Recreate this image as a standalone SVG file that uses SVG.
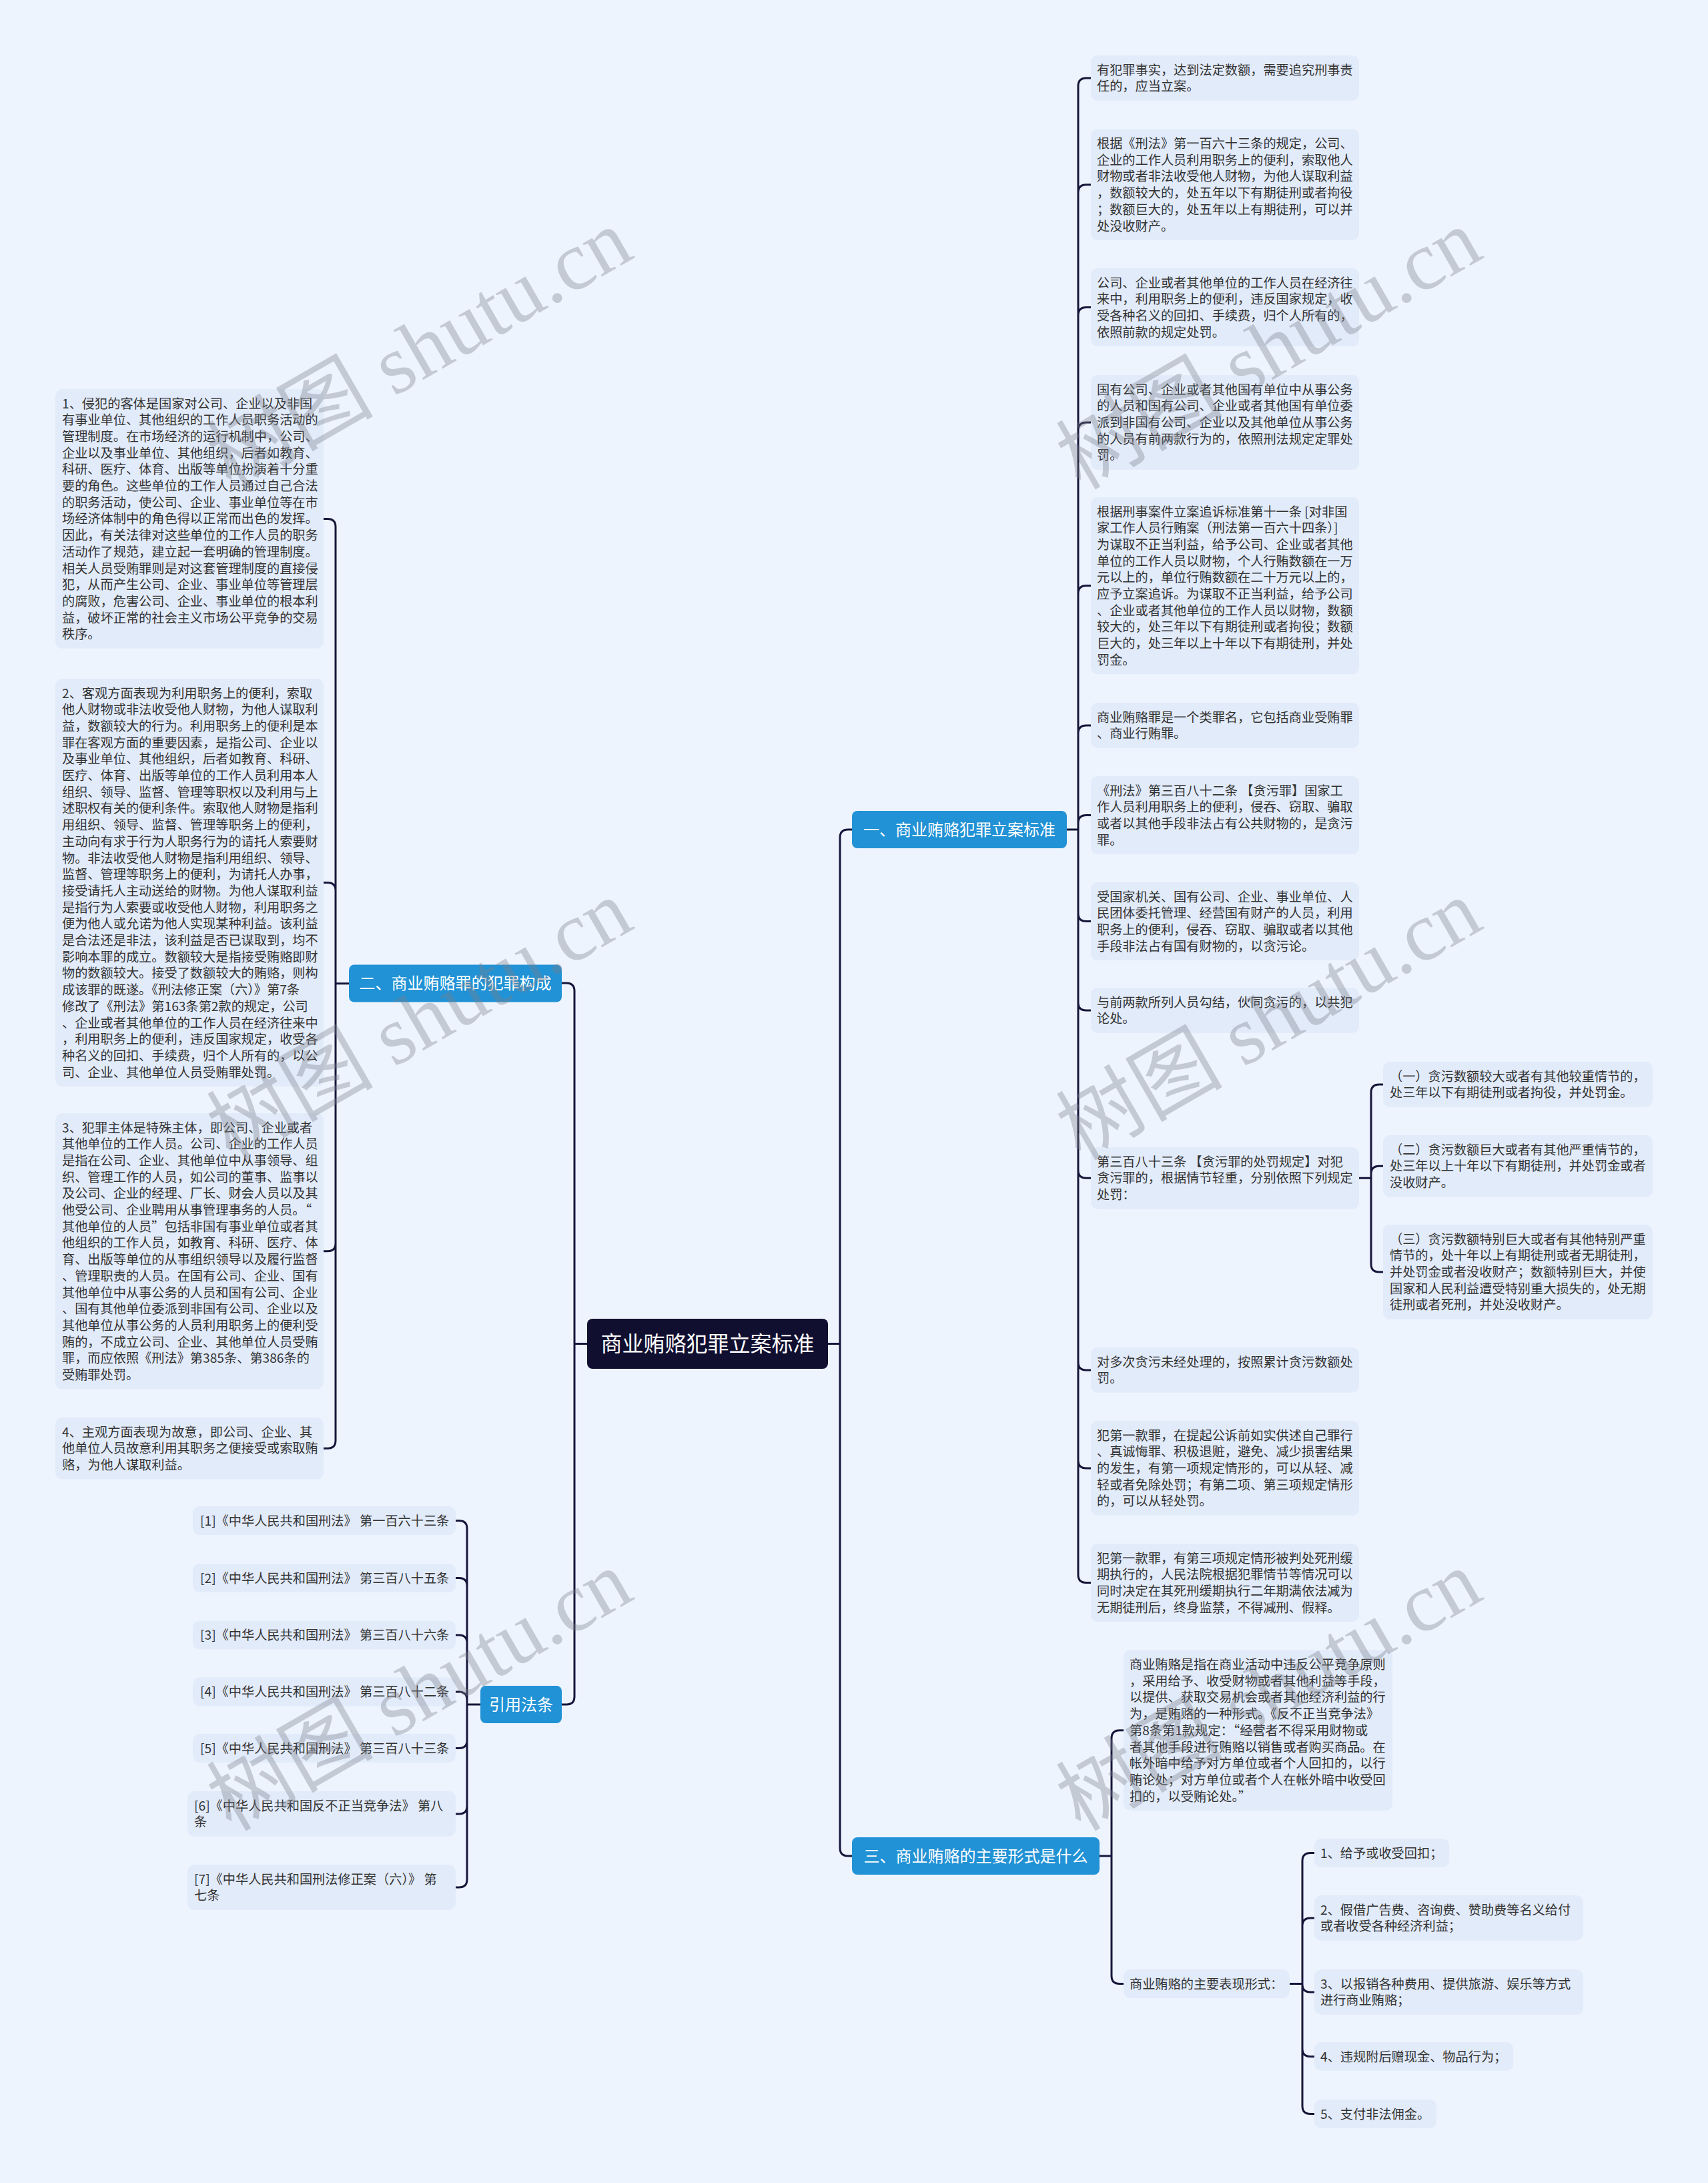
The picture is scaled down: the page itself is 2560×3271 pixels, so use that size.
<svg xmlns="http://www.w3.org/2000/svg" width="2560" height="3271" viewBox="0 0 2560 3271">
<style>
.bg{fill:#eef4fe}
.box{fill:#e2ebfa}
.t{font-family:"Noto Sans CJK SC","Noto Sans",sans-serif;font-size:19.2px;fill:#333}
.br{fill:#2192d5}
.bt{font-family:"Noto Sans CJK SC","Noto Sans",sans-serif;font-size:24px;fill:#fff;text-anchor:middle}
.ct{font-family:"Noto Sans CJK SC","Noto Sans",sans-serif;font-size:32px;fill:#fff;text-anchor:middle}
.cn path{fill:none;stroke:#15163a;stroke-width:3;stroke-linecap:round}
.wm{font-family:"Liberation Serif","Noto Sans CJK SC",serif;font-size:125px;fill:#7d818a;opacity:0.36;text-anchor:middle}
</style>
<rect class="bg" x="0" y="0" width="2560" height="3271"/>
<g id="connectors" class="cn">
<path d="M1241,2013.5 H1259 M1259,1255 V2769 M1259,1255 Q1259,1243 1271,1243 H1277 M1259,2769 Q1259,2781 1271,2781 H1277"/>
<path d="M880,2013.5 H861 M861,1485 V2542 M861,1485 Q861,1473 849,1473 H842 M861,2542 Q861,2554 849,2554 H842"/>
<path d="M1599,1243 H1616 M1616,128.9 V2359.5 M1616,128.9 Q1616,116.9 1628,116.9 H1635 M1616,288.75 Q1616,276.75 1628,276.75 H1635 M1616,472.5 Q1616,460.5 1628,460.5 H1635 M1616,644.9 Q1616,632.9 1628,632.9 H1635 M1616,889.6 Q1616,877.6 1628,877.6 H1635 M1616,1098.9 Q1616,1086.9 1628,1086.9 H1635 M1616,1233.5 Q1616,1221.5 1628,1221.5 H1635 M1616,1368.5 Q1616,1380.5 1628,1380.5 H1635 M1616,1501.9 Q1616,1513.9 1628,1513.9 H1635 M1616,1753.2 Q1616,1765.2 1628,1765.2 H1635 M1616,2040.9 Q1616,2052.9 1628,2052.9 H1635 M1616,2187.9 Q1616,2199.9 1628,2199.9 H1635 M1616,2359.5 Q1616,2371.5 1628,2371.5 H1635"/>
<path d="M2037,1765.2 H2055 M2055,1636.9 V1893.9 M2055,1636.9 Q2055,1624.9 2067,1624.9 H2073 M2055,1759.2 Q2055,1747.2 2067,1747.2 H2073 M2055,1893.9 Q2055,1905.9 2067,1905.9 H2073"/>
<path d="M523,1473.8 H503 M503,789.4 V2158.2 M503,789.4 Q503,777.4 491,777.4 H485 M503,1334.6 Q503,1322.6 491,1322.6 H485 M503,1862.8 Q503,1874.8 491,1874.8 H485 M503,2158.2 Q503,2170.2 491,2170.2 H485"/>
<path d="M720,2554 H700 M700,2290.5 V2815.9 M700,2290.5 Q700,2278.5 688,2278.5 H683 M700,2376.5 Q700,2364.5 688,2364.5 H683 M700,2462 Q700,2450 688,2450 H683 M700,2547 Q700,2535 688,2535 H683 M700,2607.5 Q700,2619.5 688,2619.5 H683 M700,2705.9 Q700,2717.9 688,2717.9 H683 M700,2815.9 Q700,2827.9 688,2827.9 H683"/>
<path d="M1648,2781 H1666 M1666,2604.8 V2960.5 M1666,2604.8 Q1666,2592.8 1678,2592.8 H1684 M1666,2960.5 Q1666,2972.5 1678,2972.5 H1684"/>
<path d="M1933,2972.5 H1952 M1952,2788.5 V3155.5 M1952,2788.5 Q1952,2776.5 1964,2776.5 H1970 M1952,2885.9 Q1952,2873.9 1964,2873.9 H1970 M1952,2972.9 Q1952,2984.9 1964,2984.9 H1970 M1952,3069.5 Q1952,3081.5 1964,3081.5 H1970 M1952,3155.5 Q1952,3167.5 1964,3167.5 H1970"/>
</g>
<g id="root"><rect x="880" y="1976" width="361" height="75" rx="8" fill="#110f30"/><text class="ct" x="1060.5" y="2025">商业贿赂犯罪立案标准</text></g>
<g id="b1"><rect class="br" x="1277" y="1215" width="322" height="56" rx="8"/><text class="bt" x="1438" y="1251.5">一、商业贿赂犯罪立案标准</text></g>
<g id="b2"><rect class="br" x="523" y="1445.5" width="319" height="56" rx="8"/><text class="bt" x="682.5" y="1482">二、商业贿赂罪的犯罪构成</text></g>
<g id="b3"><rect class="br" x="1277" y="2753" width="371" height="56" rx="8"/><text class="bt" x="1462.5" y="2789.5">三、商业贿赂的主要形式是什么</text></g>
<g id="b4"><rect class="br" x="720" y="2526" width="122" height="56" rx="8"/><text class="bt" x="781" y="2562.5">引用法条</text></g>
<g id="r1"><rect class="box" x="1635" y="83" width="402" height="67.7" rx="10"/><text class="t" x="1644" y="111.5"><tspan x="1644">有犯罪事实，达到法定数额，需要追究刑事责</tspan><tspan x="1644" dy="24.7">任的，应当立案。</tspan></text></g>
<g id="r2"><rect class="box" x="1635" y="193.5" width="402" height="166.5" rx="10"/><text class="t" x="1644" y="222"><tspan x="1644">根据《刑法》第一百六十三条的规定，公司、</tspan><tspan x="1644" dy="24.7">企业的工作人员利用职务上的便利，索取他人</tspan><tspan x="1644" dy="24.7">财物或者非法收受他人财物，为他人谋取利益</tspan><tspan x="1644" dy="24.7">，数额较大的，处五年以下有期徒刑或者拘役</tspan><tspan x="1644" dy="24.7">；数额巨大的，处五年以上有期徒刑，可以并</tspan><tspan x="1644" dy="24.7">处没收财产。</tspan></text></g>
<g id="r3"><rect class="box" x="1635" y="402" width="402" height="117.1" rx="10"/><text class="t" x="1644" y="430.5"><tspan x="1644">公司、企业或者其他单位的工作人员在经济往</tspan><tspan x="1644" dy="24.7">来中，利用职务上的便利，违反国家规定，收</tspan><tspan x="1644" dy="24.7">受各种名义的回扣、手续费，归个人所有的，</tspan><tspan x="1644" dy="24.7">依照前款的规定处罚。</tspan></text></g>
<g id="r4"><rect class="box" x="1635" y="562" width="402" height="141.8" rx="10"/><text class="t" x="1644" y="590.5"><tspan x="1644">国有公司、企业或者其他国有单位中从事公务</tspan><tspan x="1644" dy="24.7">的人员和国有公司、企业或者其他国有单位委</tspan><tspan x="1644" dy="24.7">派到非国有公司、企业以及其他单位从事公务</tspan><tspan x="1644" dy="24.7">的人员有前两款行为的，依照刑法规定定罪处</tspan><tspan x="1644" dy="24.7">罚。</tspan></text></g>
<g id="r5"><rect class="box" x="1635" y="745" width="402" height="265.3" rx="10"/><text class="t" x="1644" y="773.5"><tspan x="1644">根据刑事案件立案追诉标准第十一条 [对非国</tspan><tspan x="1644" dy="24.7">家工作人员行贿案（刑法第一百六十四条）]</tspan><tspan x="1644" dy="24.7">为谋取不正当利益，给予公司、企业或者其他</tspan><tspan x="1644" dy="24.7">单位的工作人员以财物，个人行贿数额在一万</tspan><tspan x="1644" dy="24.7">元以上的，单位行贿数额在二十万元以上的，</tspan><tspan x="1644" dy="24.7">应予立案追诉。为谋取不正当利益，给予公司</tspan><tspan x="1644" dy="24.7">、企业或者其他单位的工作人员以财物，数额</tspan><tspan x="1644" dy="24.7">较大的，处三年以下有期徒刑或者拘役；数额</tspan><tspan x="1644" dy="24.7">巨大的，处三年以上十年以下有期徒刑，并处</tspan><tspan x="1644" dy="24.7">罚金。</tspan></text></g>
<g id="r6"><rect class="box" x="1635" y="1053" width="402" height="67.7" rx="10"/><text class="t" x="1644" y="1081.5"><tspan x="1644">商业贿赂罪是一个类罪名，它包括商业受贿罪</tspan><tspan x="1644" dy="24.7">、商业行贿罪。</tspan></text></g>
<g id="r7"><rect class="box" x="1635" y="1163" width="402" height="117.1" rx="10"/><text class="t" x="1644" y="1191.5"><tspan x="1644">《刑法》第三百八十二条 【贪污罪】国家工</tspan><tspan x="1644" dy="24.7">作人员利用职务上的便利，侵吞、窃取、骗取</tspan><tspan x="1644" dy="24.7">或者以其他手段非法占有公共财物的，是贪污</tspan><tspan x="1644" dy="24.7">罪。</tspan></text></g>
<g id="r8"><rect class="box" x="1635" y="1322" width="402" height="117.1" rx="10"/><text class="t" x="1644" y="1350.5"><tspan x="1644">受国家机关、国有公司、企业、事业单位、人</tspan><tspan x="1644" dy="24.7">民团体委托管理、经营国有财产的人员，利用</tspan><tspan x="1644" dy="24.7">职务上的便利，侵吞、窃取、骗取或者以其他</tspan><tspan x="1644" dy="24.7">手段非法占有国有财物的，以贪污论。</tspan></text></g>
<g id="r9"><rect class="box" x="1635" y="1480" width="402" height="67.7" rx="10"/><text class="t" x="1644" y="1508.5"><tspan x="1644">与前两款所列人员勾结，伙同贪污的，以共犯</tspan><tspan x="1644" dy="24.7">论处。</tspan></text></g>
<g id="r10"><rect class="box" x="1635" y="1719" width="402" height="92.4" rx="10"/><text class="t" x="1644" y="1747.5"><tspan x="1644">第三百八十三条 【贪污罪的处罚规定】对犯</tspan><tspan x="1644" dy="24.7">贪污罪的，根据情节轻重，分别依照下列规定</tspan><tspan x="1644" dy="24.7">处罚：</tspan></text></g>
<g id="s1"><rect class="box" x="2073" y="1591" width="404" height="67.7" rx="10"/><text class="t" x="2083" y="1619.5"><tspan x="2083">（一）贪污数额较大或者有其他较重情节的，</tspan><tspan x="2083" dy="24.7">处三年以下有期徒刑或者拘役，并处罚金。</tspan></text></g>
<g id="s2"><rect class="box" x="2073" y="1701" width="404" height="92.4" rx="10"/><text class="t" x="2083" y="1729.5"><tspan x="2083">（二）贪污数额巨大或者有其他严重情节的，</tspan><tspan x="2083" dy="24.7">处三年以上十年以下有期徒刑，并处罚金或者</tspan><tspan x="2083" dy="24.7">没收财产。</tspan></text></g>
<g id="s3"><rect class="box" x="2073" y="1835" width="404" height="141.8" rx="10"/><text class="t" x="2083" y="1863.5"><tspan x="2083">（三）贪污数额特别巨大或者有其他特别严重</tspan><tspan x="2083" dy="24.7">情节的，处十年以上有期徒刑或者无期徒刑，</tspan><tspan x="2083" dy="24.7">并处罚金或者没收财产；数额特别巨大，并使</tspan><tspan x="2083" dy="24.7">国家和人民利益遭受特别重大损失的，处无期</tspan><tspan x="2083" dy="24.7">徒刑或者死刑，并处没收财产。</tspan></text></g>
<g id="r11"><rect class="box" x="1635" y="2019" width="402" height="67.7" rx="10"/><text class="t" x="1644" y="2047.5"><tspan x="1644">对多次贪污未经处理的，按照累计贪污数额处</tspan><tspan x="1644" dy="24.7">罚。</tspan></text></g>
<g id="r12"><rect class="box" x="1635" y="2129" width="402" height="141.8" rx="10"/><text class="t" x="1644" y="2157.5"><tspan x="1644">犯第一款罪，在提起公诉前如实供述自己罪行</tspan><tspan x="1644" dy="24.7">、真诚悔罪、积极退赃，避免、减少损害结果</tspan><tspan x="1644" dy="24.7">的发生，有第一项规定情形的，可以从轻、减</tspan><tspan x="1644" dy="24.7">轻或者免除处罚；有第二项、第三项规定情形</tspan><tspan x="1644" dy="24.7">的，可以从轻处罚。</tspan></text></g>
<g id="r13"><rect class="box" x="1635" y="2313" width="402" height="117.1" rx="10"/><text class="t" x="1644" y="2341.5"><tspan x="1644">犯第一款罪，有第三项规定情形被判处死刑缓</tspan><tspan x="1644" dy="24.7">期执行的，人民法院根据犯罪情节等情况可以</tspan><tspan x="1644" dy="24.7">同时决定在其死刑缓期执行二年期满依法减为</tspan><tspan x="1644" dy="24.7">无期徒刑后，终身监禁，不得减刑、假释。</tspan></text></g>
<g id="l1"><rect class="box" x="83" y="583" width="402" height="388.8" rx="10"/><text class="t" x="93" y="611.5"><tspan x="93">1、侵犯的客体是国家对公司、企业以及非国</tspan><tspan x="93" dy="24.7">有事业单位、其他组织的工作人员职务活动的</tspan><tspan x="93" dy="24.7">管理制度。在市场经济的运行机制中，公司、</tspan><tspan x="93" dy="24.7">企业以及事业单位、其他组织，后者如教育、</tspan><tspan x="93" dy="24.7">科研、医疗、体育、出版等单位扮演着十分重</tspan><tspan x="93" dy="24.7">要的角色。这些单位的工作人员通过自己合法</tspan><tspan x="93" dy="24.7">的职务活动，使公司、企业、事业单位等在市</tspan><tspan x="93" dy="24.7">场经济体制中的角色得以正常而出色的发挥。</tspan><tspan x="93" dy="24.7">因此，有关法律对这些单位的工作人员的职务</tspan><tspan x="93" dy="24.7">活动作了规范，建立起一套明确的管理制度。</tspan><tspan x="93" dy="24.7">相关人员受贿罪则是对这套管理制度的直接侵</tspan><tspan x="93" dy="24.7">犯，从而产生公司、企业、事业单位等管理层</tspan><tspan x="93" dy="24.7">的腐败，危害公司、企业、事业单位的根本利</tspan><tspan x="93" dy="24.7">益，破坏正常的社会主义市场公平竞争的交易</tspan><tspan x="93" dy="24.7">秩序。</tspan></text></g>
<g id="l2"><rect class="box" x="83" y="1017" width="402" height="611.1" rx="10"/><text class="t" x="93" y="1045.5"><tspan x="93">2、客观方面表现为利用职务上的便利，索取</tspan><tspan x="93" dy="24.7">他人财物或非法收受他人财物，为他人谋取利</tspan><tspan x="93" dy="24.7">益，数额较大的行为。利用职务上的便利是本</tspan><tspan x="93" dy="24.7">罪在客观方面的重要因素，是指公司、企业以</tspan><tspan x="93" dy="24.7">及事业单位、其他组织，后者如教育、科研、</tspan><tspan x="93" dy="24.7">医疗、体育、出版等单位的工作人员利用本人</tspan><tspan x="93" dy="24.7">组织、领导、监督、管理等职权以及利用与上</tspan><tspan x="93" dy="24.7">述职权有关的便利条件。索取他人财物是指利</tspan><tspan x="93" dy="24.7">用组织、领导、监督、管理等职务上的便利，</tspan><tspan x="93" dy="24.7">主动向有求于行为人职务行为的请托人索要财</tspan><tspan x="93" dy="24.7">物。非法收受他人财物是指利用组织、领导、</tspan><tspan x="93" dy="24.7">监督、管理等职务上的便利，为请托人办事，</tspan><tspan x="93" dy="24.7">接受请托人主动送给的财物。为他人谋取利益</tspan><tspan x="93" dy="24.7">是指行为人索要或收受他人财物，利用职务之</tspan><tspan x="93" dy="24.7">便为他人或允诺为他人实现某种利益。该利益</tspan><tspan x="93" dy="24.7">是合法还是非法，该利益是否已谋取到，均不</tspan><tspan x="93" dy="24.7">影响本罪的成立。数额较大是指接受贿赂即财</tspan><tspan x="93" dy="24.7">物的数额较大。接受了数额较大的贿赂，则构</tspan><tspan x="93" dy="24.7">成该罪的既遂。《刑法修正案（六）》第7条</tspan><tspan x="93" dy="24.7">修改了《刑法》第163条第2款的规定，公司</tspan><tspan x="93" dy="24.7">、企业或者其他单位的工作人员在经济往来中</tspan><tspan x="93" dy="24.7">，利用职务上的便利，违反国家规定，收受各</tspan><tspan x="93" dy="24.7">种名义的回扣、手续费，归个人所有的，以公</tspan><tspan x="93" dy="24.7">司、企业、其他单位人员受贿罪处罚。</tspan></text></g>
<g id="l3"><rect class="box" x="83" y="1668" width="402" height="413.5" rx="10"/><text class="t" x="93" y="1696.5"><tspan x="93">3、犯罪主体是特殊主体，即公司、企业或者</tspan><tspan x="93" dy="24.7">其他单位的工作人员。公司、企业的工作人员</tspan><tspan x="93" dy="24.7">是指在公司、企业、其他单位中从事领导、组</tspan><tspan x="93" dy="24.7">织、管理工作的人员，如公司的董事、监事以</tspan><tspan x="93" dy="24.7">及公司、企业的经理、厂长、财会人员以及其</tspan><tspan x="93" dy="24.7">他受公司、企业聘用从事管理事务的人员。“</tspan><tspan x="93" dy="24.7">其他单位的人员”包括非国有事业单位或者其</tspan><tspan x="93" dy="24.7">他组织的工作人员，如教育、科研、医疗、体</tspan><tspan x="93" dy="24.7">育、出版等单位的从事组织领导以及履行监督</tspan><tspan x="93" dy="24.7">、管理职责的人员。在国有公司、企业、国有</tspan><tspan x="93" dy="24.7">其他单位中从事公务的人员和国有公司、企业</tspan><tspan x="93" dy="24.7">、国有其他单位委派到非国有公司、企业以及</tspan><tspan x="93" dy="24.7">其他单位从事公务的人员利用职务上的便利受</tspan><tspan x="93" dy="24.7">贿的，不成立公司、企业、其他单位人员受贿</tspan><tspan x="93" dy="24.7">罪，而应依照《刑法》第385条、第386条的</tspan><tspan x="93" dy="24.7">受贿罪处罚。</tspan></text></g>
<g id="l4"><rect class="box" x="83" y="2124" width="402" height="92.4" rx="10"/><text class="t" x="93" y="2152.5"><tspan x="93">4、主观方面表现为故意，即公司、企业、其</tspan><tspan x="93" dy="24.7">他单位人员故意利用其职务之便接受或索取贿</tspan><tspan x="93" dy="24.7">赂，为他人谋取利益。</tspan></text></g>
<g id="c1"><rect class="box" x="289" y="2257" width="394" height="43" rx="10"/><text class="t" x="300" y="2285.5">[1]《中华人民共和国刑法》 第一百六十三条</text></g>
<g id="c2"><rect class="box" x="289" y="2343" width="394" height="43" rx="10"/><text class="t" x="300" y="2371.5">[2]《中华人民共和国刑法》 第三百八十五条</text></g>
<g id="c3"><rect class="box" x="289" y="2428.5" width="394" height="43" rx="10"/><text class="t" x="300" y="2457">[3]《中华人民共和国刑法》 第三百八十六条</text></g>
<g id="c4"><rect class="box" x="289" y="2513.5" width="394" height="43" rx="10"/><text class="t" x="300" y="2542">[4]《中华人民共和国刑法》 第三百八十二条</text></g>
<g id="c5"><rect class="box" x="289" y="2598" width="394" height="43" rx="10"/><text class="t" x="300" y="2626.5">[5]《中华人民共和国刑法》 第三百八十三条</text></g>
<g id="c6"><rect class="box" x="281" y="2684" width="402" height="67.7" rx="10"/><text class="t" x="291" y="2712.5"><tspan x="291">[6]《中华人民共和国反不正当竞争法》 第八</tspan><tspan x="291" dy="24.7">条</tspan></text></g>
<g id="c7"><rect class="box" x="281" y="2794" width="402" height="67.7" rx="10"/><text class="t" x="291" y="2822.5"><tspan x="291">[7]《中华人民共和国刑法修正案（六）》 第</tspan><tspan x="291" dy="24.7">七条</tspan></text></g>
<g id="t1"><rect class="box" x="1684" y="2472.5" width="403" height="240.6" rx="10"/><text class="t" x="1693" y="2501"><tspan x="1693">商业贿赂是指在商业活动中违反公平竞争原则</tspan><tspan x="1693" dy="24.7">，采用给予、收受财物或者其他利益等手段，</tspan><tspan x="1693" dy="24.7">以提供、获取交易机会或者其他经济利益的行</tspan><tspan x="1693" dy="24.7">为，是贿赂的一种形式。《反不正当竞争法》</tspan><tspan x="1693" dy="24.7">第8条第1款规定：“经营者不得采用财物或</tspan><tspan x="1693" dy="24.7">者其他手段进行贿赂以销售或者购买商品。在</tspan><tspan x="1693" dy="24.7">帐外暗中给予对方单位或者个人回扣的，以行</tspan><tspan x="1693" dy="24.7">贿论处；对方单位或者个人在帐外暗中收受回</tspan><tspan x="1693" dy="24.7">扣的，以受贿论处。”</tspan></text></g>
<g id="t2"><rect class="box" x="1684" y="2951" width="249" height="43" rx="10"/><text class="t" x="1693" y="2979.5">商业贿赂的主要表现形式：</text></g>
<g id="u1"><rect class="box" x="1970" y="2755" width="202" height="43" rx="10"/><text class="t" x="1979" y="2783.5">1、给予或收受回扣；</text></g>
<g id="u2"><rect class="box" x="1970" y="2840" width="403" height="67.7" rx="10"/><text class="t" x="1979" y="2868.5"><tspan x="1979">2、假借广告费、咨询费、赞助费等名义给付</tspan><tspan x="1979" dy="24.7">或者收受各种经济利益；</tspan></text></g>
<g id="u3"><rect class="box" x="1970" y="2951" width="403" height="67.7" rx="10"/><text class="t" x="1979" y="2979.5"><tspan x="1979">3、以报销各种费用、提供旅游、娱乐等方式</tspan><tspan x="1979" dy="24.7">进行商业贿赂；</tspan></text></g>
<g id="u4"><rect class="box" x="1970" y="3060" width="298" height="43" rx="10"/><text class="t" x="1979" y="3088.5">4、违规附后赠现金、物品行为；</text></g>
<g id="u5"><rect class="box" x="1970" y="3146" width="183" height="43" rx="10"/><text class="t" x="1979" y="3174.5">5、支付非法佣金。</text></g>
<g id="watermark">
<text class="wm" transform="translate(650,560) rotate(-30)">树图 shutu.cn</text>
<text class="wm" transform="translate(1923,560) rotate(-30)">树图 shutu.cn</text>
<text class="wm" transform="translate(650,1565) rotate(-30)">树图 shutu.cn</text>
<text class="wm" transform="translate(1923,1565) rotate(-30)">树图 shutu.cn</text>
<text class="wm" transform="translate(650,2570) rotate(-30)">树图 shutu.cn</text>
<text class="wm" transform="translate(1923,2570) rotate(-30)">树图 shutu.cn</text>
</g>
</svg>
